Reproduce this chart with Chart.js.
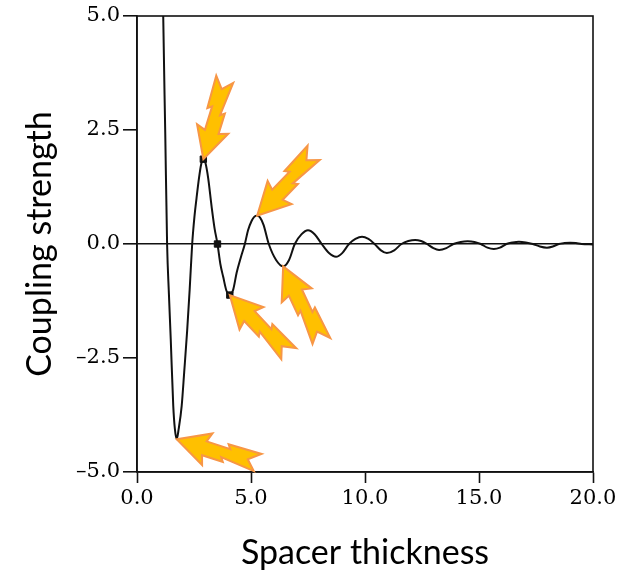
<!DOCTYPE html>
<html>
<head>
<meta charset="utf-8">
<script src="https://cdn.jsdelivr.net/npm/chart.js@4.4.1/dist/chart.umd.min.js"></script>
<style>
  html, body { margin: 0; padding: 0; background: #fff; }
  #wrap { width: 621px; height: 574px; }
</style>
</head>
<body>
<div id="wrap"><canvas id="couplingChart" width="621" height="574"></canvas></div>
<script>
// values
const thickness = [
  1.08, 1.15, 1.24, 1.32, 1.40, 1.48, 1.59, 1.66, 1.74, 1.83, 1.96, 2.07, 2.20, 2.31, 2.42,
  2.52, 2.61, 2.72, 2.82, 2.91, 3.00, 3.12, 3.27, 3.40, 3.53,
  3.66, 3.78, 3.92, 4.07, 4.22, 4.37, 4.55, 4.73,
  4.87, 5.02, 5.15, 5.27, 5.40, 5.55, 5.78,
  6.10, 6.41, 6.67, 6.92, 7.21, 7.50, 7.80, 8.10,
  8.42, 8.73, 9.00, 9.30, 9.58, 9.87, 10.15, 10.42,
  10.70, 10.96, 11.28, 11.60, 11.90, 12.20, 12.46, 12.72,
  13.00, 13.25, 13.57, 13.88, 14.20, 14.50, 14.80, 15.08,
  15.37, 15.65, 15.92, 16.20, 16.48, 16.75, 17.05, 17.36,
  17.67, 17.98, 18.24, 18.50, 18.75, 19.00, 19.25, 19.50, 20.00
];
const coupling = [
  8.0, 5.0, 2.4, 0.0, -1.1, -2.09, -3.55, -4.05, -4.28, -4.05, -3.55, -2.81, -1.9, -1.0, 0.0,
  0.6, 1.0, 1.45, 1.76, 1.86, 1.78, 1.45, 0.83, 0.35, 0.0,
  -0.45, -0.72, -1.02, -1.12, -1.0, -0.63, -0.3, 0.0,
  0.3, 0.5, 0.6, 0.62, 0.58, 0.42, 0.0,
  -0.35, -0.49, -0.35, 0.0, 0.21, 0.30, 0.21, 0.0,
  -0.2, -0.28, -0.2, 0.0, 0.11, 0.16, 0.11, 0.0,
  -0.14, -0.2, -0.14, 0.0, 0.065, 0.09, 0.065, 0.0,
  -0.09, -0.13, -0.09, 0.0, 0.045, 0.06, 0.045, 0.0,
  -0.08, -0.11, -0.08, 0.0, 0.035, 0.05, 0.035, 0.0,
  -0.055, -0.08, -0.055, 0.0, 0.02, 0.03, 0.02, 0.0, -0.01
];
const markedThickness = [2.91, 3.53, 4.07];
const markedCoupling = [1.86, 0.0, -1.12];
const xTicks = [0, 5, 10, 15, 20];
const yTicks = [-5, -2.5, 0, 2.5, 5];

// orange arrows: tip at a data point, tail offset in pixels
const arrows = [
  { x: 2.91, y: 1.86, dx: 24, dy: -78 },
  { x: 5.27, y: 0.62, dx: 58, dy: -60 },
  { x: 4.07, y: -1.12, dx: 56, dy: 60 },
  { x: 6.41, y: -0.49, dx: 35, dy: 75 },
  { x: 1.74, y: -4.28, dx: 79, dy: 26 }
];

const fmt = (v) => v.toFixed(1).replace("-", "\u2013");

const frame = {
  id: "frame",
  afterDatasetsDraw(chart) {
    const { ctx, chartArea: a } = chart;
    ctx.save();
    ctx.strokeStyle = "#111";
    ctx.lineWidth = 1.6;
    ctx.strokeRect(a.left, a.top, a.right - a.left, a.bottom - a.top);
    ctx.restore();
  }
};

// notched arrow with a lightning kink, tip at origin, tail along +u, length 80
const arrowShape = [
  [0, 0], [31, -16], [28, -7], [52, -7], [49, -11], [82, -12],
  [71, -3], [80, 6], [46, 3], [49, 7], [28, 7], [31, 16]
];

const arrowPlugin = {
  id: "arrows",
  afterDraw(chart) {
    const { ctx } = chart;
    const xs = chart.scales.x, ys = chart.scales.y;
    ctx.save();
    arrows.forEach((a) => {
      const tx = xs.getPixelForValue(a.x);
      const ty = ys.getPixelForValue(a.y);
      const ang = Math.atan2(a.dy, a.dx);
      const k = Math.hypot(a.dx, a.dy) / 80;
      ctx.save();
      ctx.translate(tx, ty);
      ctx.rotate(ang);
      ctx.beginPath();
      arrowShape.forEach(([u, v], i) => {
        if (i === 0) ctx.moveTo(u * k, v * k);
        else ctx.lineTo(u * k, v * k);
      });
      ctx.closePath();
      ctx.fillStyle = "#FFC000";
      ctx.fill();
      ctx.lineWidth = 2;
      ctx.lineJoin = "miter";
      ctx.strokeStyle = "#F79646";
      ctx.stroke();
      ctx.restore();
    });
    ctx.restore();
  }
};

new Chart(document.getElementById("couplingChart"), {
  type: "scatter",
  data: {
    datasets: [
      {
        data: thickness.map((t, i) => ({ x: t, y: coupling[i] })),
        showLine: true,
        borderColor: "#111",
        borderWidth: 2,
        pointRadius: 0,
        cubicInterpolationMode: "monotone",
      },
      {
        data: markedThickness.map((t, i) => ({ x: t, y: markedCoupling[i] })),
        pointStyle: "rect",
        pointRadius: 4.5,
        backgroundColor: "#111",
        borderColor: "#111",
      },
    ],
  },
  options: {
    responsive: false,
    animation: false,
    layout: { padding: { top: 16, right: 28, left: 0, bottom: 0 } },
    plugins: { legend: { display: false }, tooltip: { enabled: false } },
    scales: {
      x: {
        type: "linear",
        min: 0,
        max: 20,
        afterBuildTicks: (s) => { s.ticks = xTicks.map((v) => ({ value: v })); },
        afterFit: (s) => { s.height = 102; },
        ticks: {
          callback: (v) => fmt(v),
          color: "#000",
          font: { family: "DejaVu Serif", size: 21 },
          padding: 3,
          maxRotation: 0,
        },
        grid: { drawOnChartArea: false, tickColor: "#111", tickLength: 11, tickWidth: 1.6 },
        border: { display: true, color: "#111", width: 1.6 },
        title: {
          display: true,
          text: "Spacer thickness",
          color: "#000",
          font: { family: "Lato", size: 34 },
          padding: { top: 0, bottom: 1 },
        },
      },
      y: {
        type: "linear",
        min: -5,
        max: 5,
        afterBuildTicks: (s) => { s.ticks = yTicks.map((v) => ({ value: v })); },
        afterFit: (s) => { s.width = 137; },
        ticks: {
          callback: (v) => fmt(v),
          color: "#000",
          font: { family: "DejaVu Serif", size: 21 },
          padding: 3,
        },
        grid: {
          color: (c) => (c.tick && c.tick.value === 0 ? "#111" : "rgba(0,0,0,0)"),
          lineWidth: 1.6,
          tickColor: "#111",
          tickLength: 14,
          tickWidth: 1.6,
        },
        border: { display: true, color: "#111", width: 1.6 },
        title: {
          display: true,
          text: "Coupling strength",
          color: "#000",
          font: { family: "Lato", size: 34 },
          padding: { top: 20, bottom: 0 },
        },
      },
    },
  },
  plugins: [frame, arrowPlugin],
});
</script>
</body>
</html>
